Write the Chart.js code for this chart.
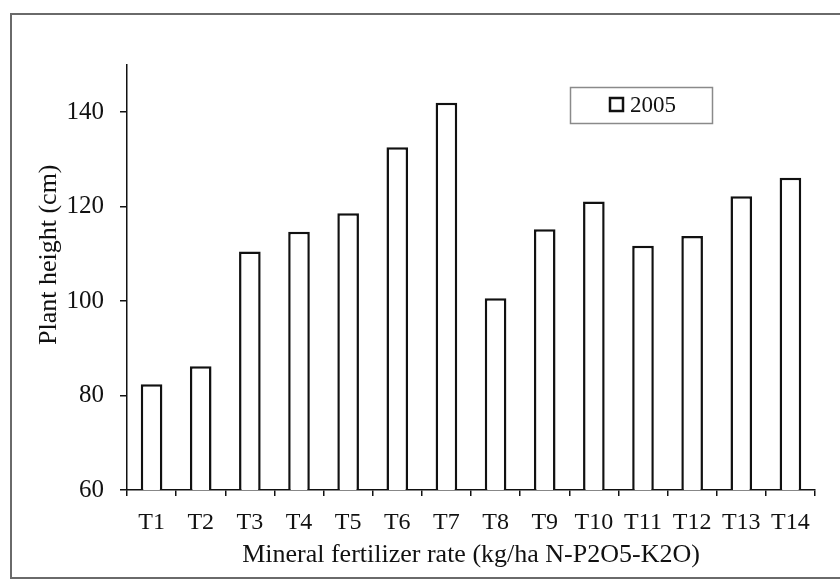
<!DOCTYPE html>
<html>
<head>
<meta charset="utf-8">
<title>Plant height</title>
<script src="https://cdn.jsdelivr.net/npm/chart.js@4.4.0/dist/chart.umd.min.js"></script>
<style>
  html, body { margin: 0; padding: 0; background: #fff; }
</style>
</head>
<body>
<canvas id="myChart" width="840" height="581"></canvas>
<script>
// values
var treatments = ["T1", "T2", "T3", "T4", "T5", "T6", "T7", "T8", "T9", "T10", "T11", "T12", "T13", "T14"];
var height2005 = [82.4, 86.2, 110.5, 114.7, 118.6, 132.6, 142.0, 100.6, 115.2, 121.1, 111.7, 113.8, 122.2, 126.1];
var yTickValues = [60, 80, 100, 120, 140];
var seriesName = "2005";
var xTitle = "Mineral fertilizer rate (kg/ha N-P2O5-K2O)";
var yTitle = "Plant height (cm)";

var serif = "'Liberation Serif', 'Times New Roman', serif";
var ink = "#111111";

// frame around the whole chart + small boxed legend
var framePlugin = {
  id: "frame",
  afterDraw: function (chart) {
    var ctx = chart.ctx;
    ctx.save();
    ctx.strokeStyle = "#6a6a6a";
    ctx.lineWidth = 2;
    ctx.strokeRect(11, 14, 850, 564);

    // legend
    ctx.strokeStyle = "#8a8a8a";
    ctx.lineWidth = 1.5;
    ctx.strokeRect(570.5, 87.5, 142, 36);
    ctx.strokeStyle = ink;
    ctx.lineWidth = 2.5;
    ctx.fillStyle = "#fff";
    ctx.fillRect(610, 98, 13, 13);
    ctx.strokeRect(610, 98, 13, 13);
    ctx.fillStyle = ink;
    ctx.font = "23px " + serif;
    ctx.textBaseline = "middle";
    ctx.textAlign = "left";
    ctx.fillText(chart.data.datasets[0].label, 630, 106);
    ctx.restore();
  }
};

new Chart("myChart", {
  type: "bar",
  data: {
    labels: treatments,
    datasets: [{
      label: seriesName,
      data: height2005,
      backgroundColor: "#ffffff",
      borderColor: ink,
      borderWidth: 2.5,
      barPercentage: 0.44,
      categoryPercentage: 1.0
    }]
  },
  options: {
    responsive: false,
    animation: false,
    devicePixelRatio: 1,
    layout: { padding: { top: 65, right: 25, bottom: 8, left: 18 } },
    plugins: {
      legend: { display: false },
      tooltip: { enabled: false }
    },
    scales: {
      x: {
        offset: true,
        grid: { offset: true, drawOnChartArea: false, drawTicks: true, tickLength: 6, color: ink, lineWidth: 1.5 },
        border: { color: ink, width: 1.5 },
        ticks: { color: ink, font: { family: serif, size: 24 }, padding: 12, maxRotation: 0, autoSkip: false },
        title: { display: true, text: xTitle, color: ink, font: { family: serif, size: 26 }, padding: { top: 0, bottom: 2 } },
        afterFit: function (scale) { scale.height = 83; }
      },
      y: {
        min: 60,
        max: 150,
        grid: { drawOnChartArea: false, drawTicks: true, tickLength: 7, color: ink, lineWidth: 1.5 },
        border: { color: ink, width: 1.5 },
        ticks: { color: ink, font: { family: serif, size: 25 }, padding: 16 },
        afterBuildTicks: function (axis) {
          axis.ticks = yTickValues.map(function (v) { return { value: v }; });
        },
        // leading spaces move the centred title up, as in the original
        title: { display: true, text: "       " + yTitle, color: ink, font: { family: serif, size: 26 }, padding: { top: 16, bottom: 0 } },
        afterFit: function (scale) { scale.width = 109; }
      }
    }
  },
  plugins: [framePlugin]
});
</script>
</body>
</html>
